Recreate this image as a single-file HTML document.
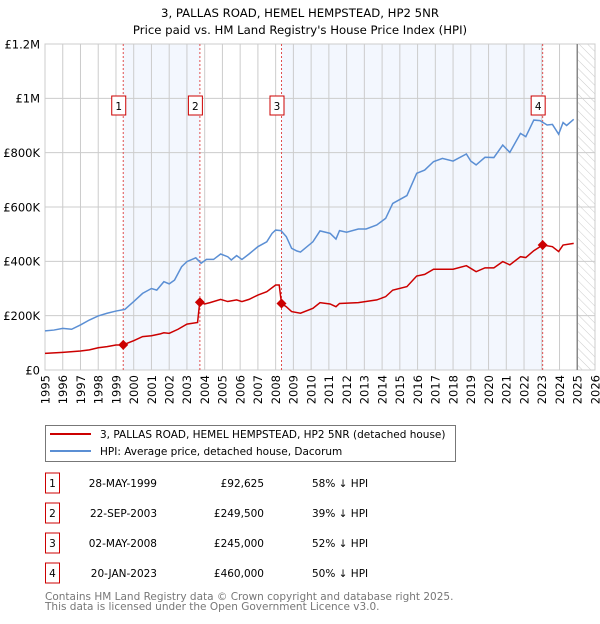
<!DOCTYPE html>
<html><head><meta charset="utf-8"><style>
body{margin:0;background:#fff;width:600px;height:620px;overflow:hidden;font-family:"DejaVu Sans","Liberation Sans",sans-serif}
svg text{font-family:"DejaVu Sans","Liberation Sans",sans-serif}
</style></head><body>
<svg id="chart" width="600" height="620" xmlns="http://www.w3.org/2000/svg">
<defs><pattern id="hatch" width="6" height="6" patternUnits="userSpaceOnUse" patternTransform="rotate(-45)"><line x1="0" y1="0" x2="0" y2="6" stroke="#ccc" stroke-width="1"/></pattern></defs>
<text x="300" y="17" text-anchor="middle" font-size="11.7">3, PALLAS ROAD, HEMEL HEMPSTEAD, HP2 5NR</text>
<text x="300" y="34" text-anchor="middle" font-size="11.7">Price paid vs. HM Land Registry's House Price Index (HPI)</text>
<g id="plot"></g>
<g>
<rect x="45.5" y="425.5" width="410" height="36" fill="#fff" stroke="#777"/>
<line x1="50" y1="434" x2="91" y2="434" stroke="#cc0000" stroke-width="2"/>
<text x="100" y="438" font-size="10.5">3, PALLAS ROAD, HEMEL HEMPSTEAD, HP2 5NR (detached house)</text>
<line x1="50" y1="451" x2="91" y2="451" stroke="#5b8fd4" stroke-width="2"/>
<text x="100" y="455" font-size="10.5">HPI: Average price, detached house, Dacorum</text>
</g>
<g id="table" font-size="10.5"></g>
<text x="45" y="600" font-size="10.5" fill="#777">Contains HM Land Registry data © Crown copyright and database right 2025.</text>
<text x="45" y="610" font-size="10.5" fill="#777">This data is licensed under the Open Government Licence v3.0.</text>
</svg>
<script>
const hpiYears=[1995,1995.5,1996,1996.5,1997,1997.5,1998,1998.5,1999,1999.5,2000,2000.5,2001,2001.3,2001.7,2002,2002.3,2002.7,2003,2003.5,2003.8,2004.1,2004.5,2004.9,2005.3,2005.5,2005.8,2006.1,2006.5,2007,2007.5,2007.8,2008,2008.3,2008.6,2008.9,2009.2,2009.4,2010.1,2010.5,2011.07,2011.4,2011.6,2012,2012.66,2013.1,2013.7,2014.2,2014.6,2015.4,2015.95,2016.4,2016.9,2017.4,2018,2018.75,2019,2019.3,2019.8,2020.3,2020.8,2021.2,2021.8,2022.1,2022.55,2022.9,2023.3,2023.6,2023.95,2024.2,2024.4,2024.8];
const hpiValues=[144,147,153,150,166,184,199,209,217,223,252,282,300,294,325,317,331,380,399,413,393,407,407,427,417,405,421,407,427,454,472,503,515,513,491,448,438,434,472,512,503,482,513,507,519,519,534,558,613,642,724,736,767,779,769,795,769,755,783,782,828,801,871,859,920,918,902,904,868,911,900,923];
const ppYears=[1995,1996,1997,1997.5,1998,1998.5,1999,1999.41,2000,2000.5,2001,2001.5,2001.7,2002,2002.5,2003,2003.6,2003.72,2004,2004.3,2004.9,2005.3,2005.8,2006.1,2006.5,2007,2007.5,2008,2008.2,2008.33,2008.6,2008.9,2009.4,2010.1,2010.5,2011.07,2011.4,2011.6,2012.66,2013.7,2014.2,2014.6,2015.4,2015.95,2016.4,2016.9,2018,2018.75,2019.3,2019.8,2020.3,2020.8,2021.2,2021.8,2022.1,2022.55,2023.05,2023.6,2023.95,2024.2,2024.8];
const ppValues=[61,65,70,74,82,86,92,92.6,108,123,126,133,137,135,150,169,175,249.5,243,248,260,252,258,252,260,276,288,313,313,245,233,215,209,227,248,243,233,245,248,258,270,294,307,346,352,371,371,384,362,376,376,399,387,417,414,439,460,454,436,460,466];
const saleLabels=["1","2","3","4"];
const saleYears=[1999.41,2003.73,2008.33,2023.05];
const saleValues=[92.625,249.5,245,460];
const saleDates=["28-MAY-1999","22-SEP-2003","02-MAY-2008","20-JAN-2023"];
const salePrices=["£92,625","£249,500","£245,000","£460,000"];
const salePcts=["58% ↓ HPI","39% ↓ HPI","52% ↓ HPI","50% ↓ HPI"];
const yTicks=[0,200,400,600,800,1000,1200];
const yTickLabels=["£0","£200K","£400K","£600K","£800K","£1M","£1.2M"];
const xTicks=[];for(let y=1995;y<=2026;y++)xTicks.push(y);

const X0=45,X1=595,Y0=370,Y1=44;
const xs=y=>X0+(y-1995)/31*(X1-X0);
const ys=v=>Y0-v/1200*(Y0-Y1);
const NS="http://www.w3.org/2000/svg";
const plot=document.getElementById('plot');
function mk(tag,attrs,parent){const e=document.createElementNS(NS,tag);for(const k in attrs)e.setAttribute(k,attrs[k]);(parent||plot).appendChild(e);return e;}

let e;
e=mk('rect',{x:xs(saleYears[0]),y:Y1,width:xs(saleYears[1])-xs(saleYears[0]),height:Y0-Y1,fill:'#eef3fd',opacity:0.7});


e=mk('rect',{x:xs(saleYears[2]),y:Y1,width:xs(saleYears[3])-xs(saleYears[2]),height:Y0-Y1,fill:'#eef3fd',opacity:0.7});


e=mk('rect',{x:xs(2025),y:Y1,width:X1-xs(2025),height:Y0-Y1,fill:'url(#hatch)'});



xTicks.forEach((t,i)=>{
  const l=mk('line',{x1:xs(t),x2:xs(t),y1:Y1,y2:Y0,stroke:'#ccc','stroke-width':1});
  
  
  const tx=mk('text',{x:0,y:0,'font-size':11.5,'text-anchor':'end',transform:`translate(${xs(t)+4.3},375) rotate(-90)`});
  tx.textContent=t;
  
  
});
yTicks.forEach((t,i)=>{
  const l=mk('line',{x1:X0,x2:X1,y1:ys(t),y2:ys(t),stroke:'#ccc','stroke-width':1});
  
  
  const tx=mk('text',{x:40,y:ys(t)+4.3,'font-size':11.5,'text-anchor':'end'});
  tx.textContent=yTickLabels[i];
  
  
});
e=mk('rect',{x:X0,y:Y1,width:X1-X0,height:Y0-Y1,fill:'none',stroke:'#ccc'});


e=mk('line',{x1:xs(2025),x2:xs(2025),y1:Y1,y2:Y0,stroke:'#888','stroke-width':1.5});



saleYears.forEach((y,i)=>{
  const l=mk('line',{x1:xs(y),x2:xs(y),y1:Y1,y2:Y0,stroke:'#e05050','stroke-width':1,'stroke-dasharray':'2,2'});
  
  
});

const hp=mk('polyline',{points:hpiYears.map((y,i)=>xs(y)+','+ys(hpiValues[i])).join(' '),fill:'none',stroke:'#5b8fd4','stroke-width':1.5});


const pp=mk('polyline',{points:ppYears.map((y,i)=>xs(y)+','+ys(ppValues[i])).join(' '),fill:'none',stroke:'#cc0000','stroke-width':1.5});



saleYears.forEach((y,i)=>{
  const cx=xs(y),cy=ys(saleValues[i]);
  const d=mk('polygon',{points:`${cx},${cy-5} ${cx+5},${cy} ${cx},${cy+5} ${cx-5},${cy}`,fill:'#cc0000'});
  
  
  const b=mk('rect',{x:cx-11.5,y:96,width:14,height:19,fill:'#fff',stroke:'#cc0000'});
  
  
  const t=mk('text',{x:cx-4.5,y:110,'font-size':10.5,'text-anchor':'middle'});
  t.textContent=saleLabels[i];
  
  
});

const table=document.getElementById('table');
saleLabels.forEach((s,i)=>{
  const cy=483+i*30;
  const g=mk('g',{},table);
  
  
  mk('rect',{x:45.5,y:cy-10,width:14,height:20,fill:'#fff',stroke:'#cc0000'},g);
  let t=mk('text',{x:52.5,y:cy+4,'text-anchor':'middle'},g);t.textContent=s;
  t=mk('text',{x:157,y:cy+4,'text-anchor':'end'},g);t.textContent=saleDates[i];
  t=mk('text',{x:264,y:cy+4,'text-anchor':'end'},g);t.textContent=salePrices[i];
  t=mk('text',{x:312,y:cy+4},g);t.textContent=salePcts[i];
});
</script>
</body></html>
